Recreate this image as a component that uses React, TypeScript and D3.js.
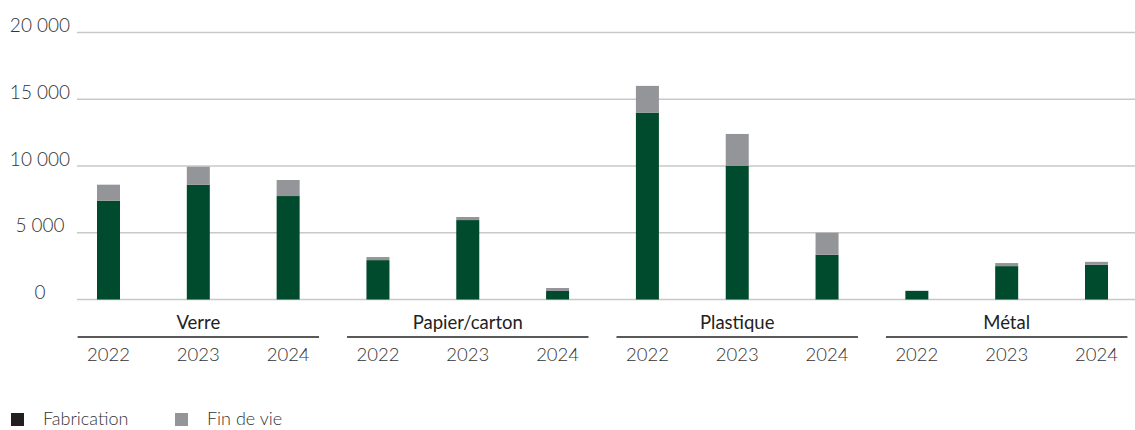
import React from "react";
import * as d3 from "d3";

const materials = ["Verre", "Papier/carton", "Plastique", "Métal"];
const years = ["2022", "2023", "2024"];
// Values per material then year
const fabrication = [7400, 8600, 7750, 2950, 5950, 640, 14000, 10000, 3350, 650, 2500, 2600];
const finDeVie = [1200, 1350, 1200, 230, 230, 220, 2000, 2400, 1650, 0, 230, 220];
const yTicks = [0, 5000, 10000, 15000, 20000];
const seriesNames = ["Fabrication", "Fin de vie"];

const W = 1135;
const H = 430;
const FONT = "Lato, 'Open Sans', sans-serif";
const GREEN = "#004b2d";
const GREY = "#939598";

export default function App() {
  const keys = materials.flatMap((m) => years.map((y) => `${m}|${y}`));
  const x = d3.scalePoint<string>().domain(keys).range([108.5, 1096.5]);
  const y = d3.scaleLinear().domain([0, 20000]).range([299.5, 32.5]);
  const barW = 23;
  const fmt = (v: number) => d3.format(",")(v).replace(/,/g, " ");

  const rows = keys.map((k, i) => ({ key: k, fab: fabrication[i], fin: finDeVie[i] }));
  const stack = d3.stack<any>().keys(["fab", "fin"])(rows as any);
  const colors = [GREEN, GREY];
  const step = x.step();

  return (
    <svg width={W} height={H} style={{ position: "absolute", left: 0, top: 0, fontFamily: FONT }}>
      {yTicks.map((t) => (
        <g key={t}>
          <line x1={77} x2={W} y1={y(t)} y2={y(t)} stroke="#c8c8c8" strokeWidth={1.5} />
          <text x={40} y={y(t) - 0.5} textAnchor="middle" fontSize={19} fill="#333" fontWeight={300}>
            {fmt(t)}
          </text>
        </g>
      ))}
      {stack.map((s, si) => (
        <g key={si} fill={colors[si]}>
          {s.map((d: any, i: number) =>
            d[1] - d[0] > 0 ? (
              <rect
                key={i}
                x={(x(keys[i]) as number) - barW / 2}
                y={y(d[1])}
                width={barW}
                height={y(d[0]) - y(d[1])}
              />
            ) : null
          )}
        </g>
      ))}
      {materials.map((m) => {
        const cx = x(`${m}|${years[1]}`) as number;
        const half = (step * 3 - 28) / 2;
        return (
          <g key={m}>
            <text x={cx} y={329} textAnchor="middle" fontSize={18.5} fill="#222" fontWeight={400}>
              {m}
            </text>
            <line x1={cx - half} x2={cx + half} y1={337} y2={337} stroke="#222" strokeWidth={1.5} />
            {years.map((yr) => (
              <text
                key={yr}
                x={x(`${m}|${yr}`) as number}
                y={361}
                textAnchor="middle"
                fontSize={18.5}
                fill="#333"
                fontWeight={300}
              >
                {yr}
              </text>
            ))}
          </g>
        );
      })}
      {seriesNames.map((n, i) => {
        const lx = i === 0 ? 11 : 175;
        return (
          <g key={n}>
            <rect x={lx} y={413} width={13} height={13} fill={i === 0 ? "#231f20" : GREY} />
            <text x={lx + 32} y={425} fontSize={18} fill="#333" fontWeight={300}>
              {n}
            </text>
          </g>
        );
      })}
    </svg>
  );
}
